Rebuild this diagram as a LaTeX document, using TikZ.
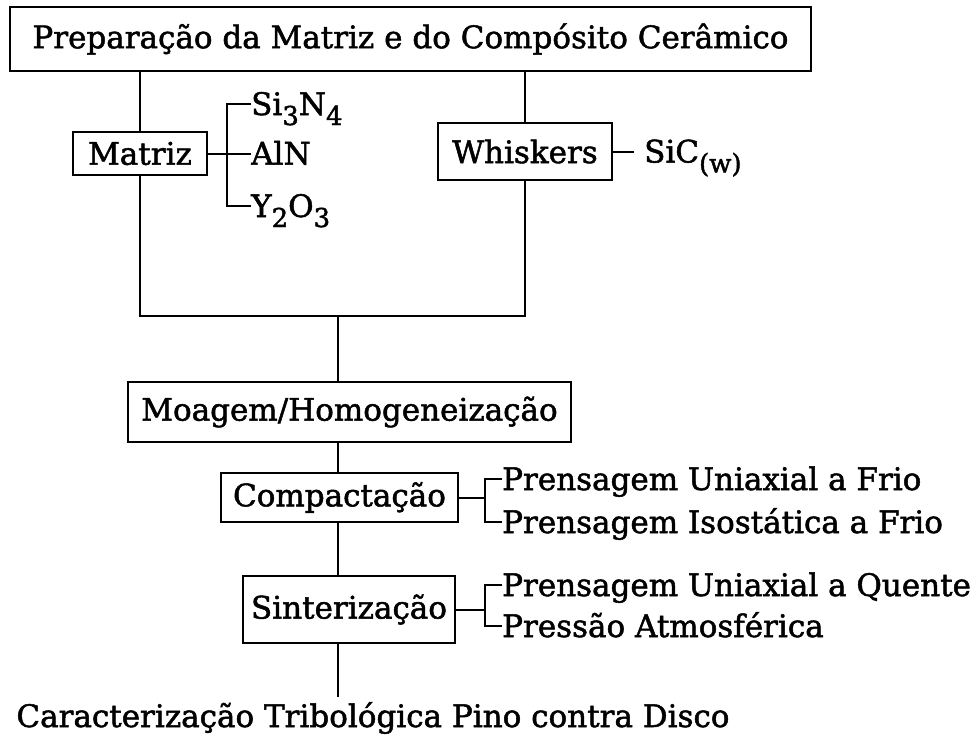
\documentclass[tikz,border=0pt]{standalone}
\usepackage{fontspec}
\setmainfont{DejaVu Serif}
\newfontfamily\diagfont{DejaVu Serif}[FakeBold=1.6]
\usetikzlibrary{positioning}
\newcommand{\chemsub}[1]{\raisebox{-10pt}{\fontsize{26}{26}\selectfont #1}}

\begin{document}
\begin{tikzpicture}[
      x=1pt, y=-1pt,
      every node/.style={font=\diagfont\fontsize{31}{36}\selectfont},
      box/.style={draw, line width=2pt, inner sep=0pt},
      item/.style={inner sep=0pt, anchor=west, text height=22pt, text depth=0pt},
      line/.style={line width=2pt}
    ]
      \useasboundingbox (0,0) rectangle (980,736);
      \node[box, minimum width=801pt, minimum height=64pt] (prep) at (410.5,39) {Preparação da Matriz e do Compósito Cerâmico};
      \node[box, minimum width=134pt, minimum height=43pt] (matriz) at (140,153.5) {Matriz};
      \node[box, minimum width=174pt, minimum height=57pt] (whisk) at (525,151.5) {Whiskers};
      \node[box, minimum width=443pt, minimum height=60pt] (moag) at (349.5,412) {Moagem/Homogeneização};
      \node[box, minimum width=237pt, minimum height=49pt] (comp) at (339.5,497.5) {Compactação};
      \node[box, minimum width=212pt, minimum height=67pt] (sint) at (349,609.5) {Sinterização};
      \coordinate (junc) at (338,316);
      % Matriz components
      \node[item] (si) at (251,104) {Si\chemsub{3}N\chemsub{4}};
      \node[item] (aln) at (251,153.5) {AlN};
      \node[item] (yo) at (251,206) {Y\chemsub{2}O\chemsub{3}};
      \node[item, inner xsep=10pt, right=21pt of whisk, anchor=west] (sic) {SiC\chemsub{(w)}};
      % process variants
      \node[item] (puf) at (502,479) {Prensagem Uniaxial a Frio};
      \node[item] (pif) at (502,522) {Prensagem Isostática a Frio};
      \node[item] (puq) at (502,585) {Prensagem Uniaxial a Quente};
      \node[item] (patm) at (502,626) {Pressão Atmosférica};
      \node[inner sep=0pt, anchor=base, text height=22pt] (carac) at (373,727) {Caracterização Tribológica Pino contra Disco};
      % tree lines
      \draw[line] (prep.south -| matriz) -- (matriz.north);
      \draw[line] (prep.south -| whisk) -- (whisk.north);
      \draw[line] (matriz.south) -- (matriz |- junc) -- (whisk |- junc) -- (whisk.south);
      \draw[line] (junc) -- (junc |- moag.north);
      \draw[line] (junc |- moag.south) -- (junc |- comp.north);
      \draw[line] (junc |- comp.south) -- (junc |- sint.north);
      \draw[line] (junc |- sint.south) -- ([yshift=8pt]junc |- carac.north);
      % brackets
      \draw[line] (si.west) -- ++(-24,0) coordinate (mbr) |- (yo.west);
      \draw[line] (matriz.east) -- (aln.west);
      \draw[line] (whisk.east) -- ++(21,0);
      \draw[line] (puf.west) -- ++(-17,0) coordinate (cbr) |- (pif.west);
      \draw[line] (comp.east) -- (comp.east -| cbr);
      \draw[line] (puq.west) -- ++(-17,0) coordinate (sbr) |- (patm.west);
      \draw[line] (sint.east) -- (sint.east -| sbr);
    \end{tikzpicture}
\end{document}
